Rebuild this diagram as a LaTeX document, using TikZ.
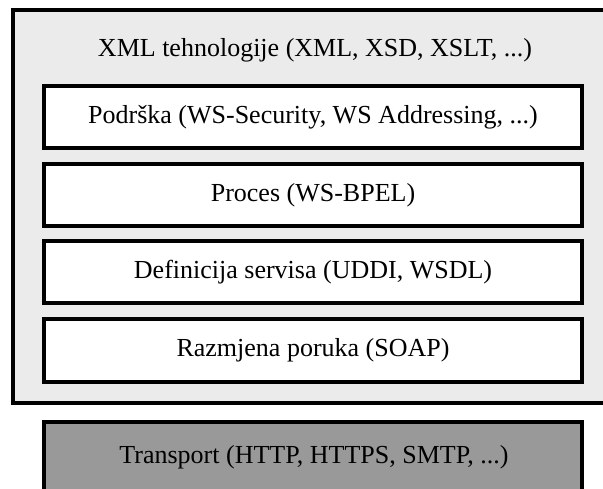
\documentclass[tikz,border=0pt]{standalone}
\usepackage{fontspec}
\setmainfont{Liberation Serif}
\tikzset{
  layerbox/.style={draw=black, line width=3.5pt, fill=white, minimum width=538pt, minimum height=62pt, inner sep=0pt, font=\fontsize{26}{30}\selectfont},
  outerbox/.style={draw=black, line width=4pt, fill=outergray, minimum width=607pt, minimum height=393pt, inner sep=0pt},
  transbox/.style={draw=black, line width=3.5pt, fill=transgray, minimum width=538pt, minimum height=90pt, inner sep=0pt},
  lbl/.style={font=\fontsize{26}{30}\selectfont, inner sep=0pt, anchor=base}
}
\definecolor{outergray}{HTML}{EBEBEB}
\definecolor{transgray}{HTML}{999999}
\begin{document}
\begin{tikzpicture}[x=1pt,y=-1pt]
\useasboundingbox (0,0) rectangle (603,488);
\begin{scope}
\clip (0,0) rectangle (603,488);
\node[outerbox] (outer) at (316.5,206.5) {};
\node[lbl] (title) at (315,56) {XML tehnologije (XML, XSD, XSLT, ...)};
\node[layerbox] (podrska) at (313,117) {Podrška (WS-Security, WS Addressing, ...)};
\node[layerbox] (proces) at (313,195) {Proces (WS-BPEL)};
\node[layerbox] (def) at (313,272) {Definicija servisa (UDDI, WSDL)};
\node[layerbox,minimum height=63pt] (razm) at (313,350.5) {Razmjena poruka (SOAP)};
\node[transbox] (trans) at (313,467) {};
\node[lbl] (translbl) at (314,463) {Transport (HTTP, HTTPS, SMTP, ...)};
\end{scope}
\end{tikzpicture}
\end{document}
